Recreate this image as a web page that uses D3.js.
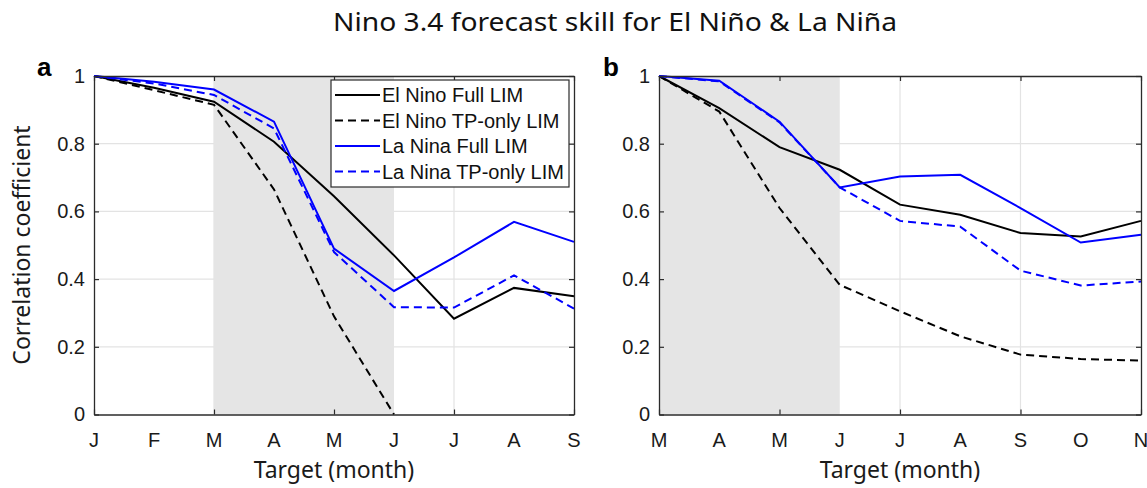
<!DOCTYPE html>
<html>
<head>
<meta charset="utf-8">
<script src="https://cdn.jsdelivr.net/npm/d3@7"></script>
<style>
  body { margin: 0; background: #fff; }
  svg { display: block; font-family: "Liberation Sans", Arial, sans-serif; }
</style>
</head>
<body>
<div id="chart"></div>
<script>
// month labels for the two panels
var monthsA = ["J", "F", "M", "A", "M", "J", "J", "A", "S"];
var monthsB = ["M", "A", "M", "J", "J", "A", "S", "O", "N"];

// panel a (start Jan)
var elNinoFullA = [1.0, 0.965, 0.924, 0.806, 0.645, 0.47, 0.283, 0.374, 0.349];
var elNinoTpA   = [1.0, 0.958, 0.915, 0.665, 0.29, 0.0, null, null, null];
var laNinaFullA = [1.0, 0.983, 0.96, 0.865, 0.49, 0.365, 0.464, 0.569, 0.51];
var laNinaTpA   = [1.0, 0.978, 0.944, 0.845, 0.48, 0.317, 0.316, 0.411, 0.313];

// panel b (start Mar)
var elNinoFullB = [1.0, 0.905, 0.79, 0.723, 0.62, 0.59, 0.536, 0.526, 0.572];
var elNinoTpB   = [1.0, 0.895, 0.61, 0.383, 0.305, 0.231, 0.177, 0.164, 0.159];
var laNinaFullB = [1.0, 0.986, 0.865, 0.671, 0.703, 0.708, 0.61, 0.508, 0.531];
var laNinaTpB   = [1.0, 0.984, 0.863, 0.671, 0.572, 0.555, 0.425, 0.381, 0.393];

// shaded target window (month index from, to)
var shadeA = [2, 5];
var shadeB = [0, 3];

var yTicks = [0, 0.2, 0.4, 0.6, 0.8, 1];
var xTickIdx = [0, 2, 4, 6, 8];

var legendNames = ["El Nino Full LIM", "El Nino TP-only LIM", "La Nina Full LIM", "La Nina TP-only LIM"];

var width = 1147, height = 488;
var plotTop = 76, plotBottom = 414.5;

var svg = d3.select("#chart").append("svg")
  .attr("width", width)
  .attr("height", height);

svg.append("text")
  .attr("x", 615)
  .attr("y", 31)
  .attr("text-anchor", "middle")
  .attr("font-family", "'Noto Sans', sans-serif")
  .attr("font-size", 26)
  .attr("textLength", 564)
  .attr("lengthAdjust", "spacingAndGlyphs")
  .attr("fill", "#111")
  .text("Nino 3.4 forecast skill for El Niño & La Niña");

var styles = [
  {color: "#000", dash: null},
  {color: "#000", dash: "8,5"},
  {color: "#0000ff", dash: null},
  {color: "#0000ff", dash: "8,5"}
];

function panel(left, right, months, series, shade, letter, letterX, showLegend) {
  var x = d3.scaleLinear().domain([0, months.length - 1]).range([left, right]);
  var y = d3.scaleLinear().domain([0, 1]).range([plotBottom, plotTop]);
  var g = svg.append("g");

  // grid
  g.selectAll(".gy").data(yTicks.slice(1, -1)).join("line")
    .attr("x1", left).attr("x2", right)
    .attr("y1", d => y(d)).attr("y2", d => y(d))
    .attr("stroke", "#e3e3e3").attr("stroke-width", 1.2);
  g.selectAll(".gx").data(xTickIdx.slice(1, -1)).join("line")
    .attr("x1", d => x(d)).attr("x2", d => x(d))
    .attr("y1", plotTop).attr("y2", plotBottom)
    .attr("stroke", "#e3e3e3").attr("stroke-width", 1.2);

  // shaded window
  g.append("rect")
    .attr("x", x(shade[0]))
    .attr("y", plotTop)
    .attr("width", x(shade[1]) - x(shade[0]))
    .attr("height", plotBottom - plotTop)
    .attr("fill", "#e5e5e5");

  // series lines
  var line = d3.line()
    .defined(d => d != null)
    .x((d, i) => x(i))
    .y(d => y(d));
  series.forEach(function(s, k) {
    g.append("path")
      .datum(s)
      .attr("fill", "none")
      .attr("stroke", styles[k].color)
      .attr("stroke-width", 2)
      .attr("stroke-dasharray", styles[k].dash)
      .attr("d", line);
  });

  // axes (box with inward ticks)
  var axisColor = "#2b2b2b";
  var bottomAxis = d3.axisBottom(x).tickValues(xTickIdx).tickSizeInner(-5).tickSizeOuter(0).tickFormat("");
  var topAxis = d3.axisTop(x).tickValues(xTickIdx).tickSizeInner(-5).tickSizeOuter(0).tickFormat("");
  var leftAxis = d3.axisLeft(y).tickValues(yTicks).tickSizeInner(-5).tickSizeOuter(0).tickPadding(9)
    .tickFormat(d => d3.format("~g")(d));
  var rightAxis = d3.axisRight(y).tickValues(yTicks).tickSizeInner(-5).tickSizeOuter(0).tickFormat("");

  [
    g.append("g").attr("transform", "translate(0," + plotBottom + ")").call(bottomAxis),
    g.append("g").attr("transform", "translate(0," + plotTop + ")").call(topAxis),
    g.append("g").attr("transform", "translate(" + left + ",0)").call(leftAxis),
    g.append("g").attr("transform", "translate(" + right + ",0)").call(rightAxis)
  ].forEach(function(a) {
    a.select(".domain").attr("stroke", axisColor).attr("stroke-width", 1.3);
    a.selectAll(".tick line").attr("stroke", axisColor).attr("stroke-width", 1.2);
    a.selectAll("text").attr("font-size", 20).attr("fill", "#1a1a1a")
      .attr("font-family", "'Liberation Sans', Arial, sans-serif");
  });

  // month labels, one per month
  g.selectAll(".mlab").data(months).join("text")
    .attr("x", (d, i) => x(i))
    .attr("y", 447)
    .attr("text-anchor", "middle")
    .attr("font-size", 20)
    .attr("fill", "#1a1a1a")
    .attr("font-family", "'Liberation Sans', Arial, sans-serif")
    .text(d => d);

  g.append("text")
    .attr("x", (left + right) / 2)
    .attr("y", 478)
    .attr("text-anchor", "middle")
    .attr("font-size", 23)
    .attr("fill", "#1a1a1a")
    .attr("font-family", "'Noto Sans', sans-serif")
    .text("Target (month)");

  g.append("text")
    .attr("x", letterX)
    .attr("y", 76)
    .attr("font-size", 26)
    .attr("font-weight", "bold")
    .attr("fill", "#000")
    .text(letter);

  if (showLegend) {
    var lg = g.append("g").attr("transform", "translate(331,80)");
    lg.append("rect")
      .attr("width", 238).attr("height", 107)
      .attr("fill", "#fff")
      .attr("stroke", axisColor).attr("stroke-width", 1.2);
    legendNames.forEach(function(name, k) {
      var ry = 15 + k * 25.5;
      lg.append("line")
        .attr("x1", 4).attr("x2", 49)
        .attr("y1", ry).attr("y2", ry)
        .attr("stroke", styles[k].color)
        .attr("stroke-width", 2)
        .attr("stroke-dasharray", styles[k].dash);
      lg.append("text")
        .attr("x", 51).attr("y", ry + 7)
        .attr("font-size", 20)
        .attr("fill", "#111")
        .text(name);
    });
  }
}

panel(94, 574, monthsA, [elNinoFullA, elNinoTpA, laNinaFullA, laNinaTpA], shadeA, "a", 37, true);
panel(659, 1141, monthsB, [elNinoFullB, elNinoTpB, laNinaFullB, laNinaTpB], shadeB, "b", 603, false);

svg.append("text")
  .attr("transform", "translate(30,245) rotate(-90)")
  .attr("text-anchor", "middle")
  .attr("font-size", 23)
  .attr("fill", "#1a1a1a")
  .attr("font-family", "'Noto Sans', sans-serif")
  .text("Correlation coefficient");
</script>
</body>
</html>
